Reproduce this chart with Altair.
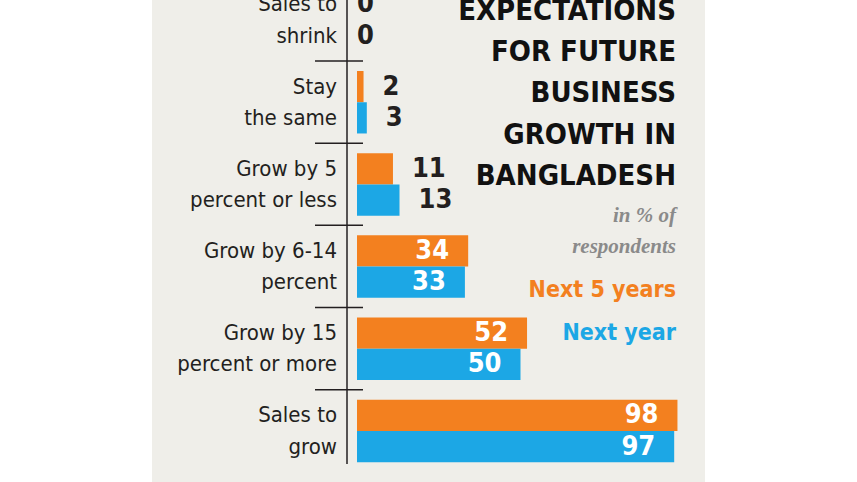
import altair as alt
import pandas as pd

# ---- data ----
categories = ["Sales to shrink", "Stay the same", "Grow by 5 percent or less",
              "Grow by 6-14 percent", "Grow by 15 percent or more", "Sales to grow"]
line1 = ["Sales to", "Stay", "Grow by 5", "Grow by 6-14", "Grow by 15", "Sales to"]
line2 = ["shrink", "the same", "percent or less", "percent", "percent or more", "grow"]
series = ["Next 5 years", "Next year"]
next_5_years = [0, 2, 11, 34, 52, 98]
next_year = [0, 3, 13, 33, 50, 97]
title_lines = ["EXPECTATIONS", "FOR FUTURE", "BUSINESS", "GROWTH IN", "BANGLADESH"]
unit_lines = ["in % of", "respondents"]

ORANGE = "#f3801f"
BLUE = "#1ca7e5"
BG = "#efeee9"
INK = "#231f20"
NARROW = "Liberation Sans Narrow, DejaVu Sans Condensed, sans-serif"

rows = []
for i, c in enumerate(categories):
    rows.append({"category": c, "series": series[0], "value": next_5_years[i], "label": line1[i]})
    rows.append({"category": c, "series": series[1], "value": next_year[i], "label": line2[i]})
df = pd.DataFrame(rows)

y_scale = alt.Scale(domain=categories, range=[-21, 472], paddingInner=0.24, paddingOuter=0.12)
y_enc = alt.Y("category:N", sort=categories, axis=None, scale=y_scale)
yoff_enc = alt.YOffset("series:N", sort=series,
                       scale=alt.Scale(domain=series, paddingInner=0, paddingOuter=0))
x_enc = alt.X("value:Q", axis=None, scale=alt.Scale(domain=[0, 100], range=[357, 684]))
color_enc = alt.Color("series:N", legend=None,
                      scale=alt.Scale(domain=series, range=[ORANGE, BLUE]))

base = alt.Chart(df)

panel = alt.Chart(alt.Data(values=[{"a": 1}])).mark_rect(color=BG).encode(
    x=alt.value(152), x2=alt.value(705), y=alt.value(0), y2=alt.value(482))

bars = base.mark_bar().encode(x=x_enc, y=y_enc, yOffset=yoff_enc, color=color_enc)

cat_labels = base.mark_text(align="right", baseline="middle", font=NARROW,
                            fontSize=22, color=INK).encode(
    x=alt.value(337), y=y_enc, yOffset=yoff_enc, text="label:N")

zero_labels = base.transform_filter("datum.value == 0").mark_text(
    align="left", baseline="middle", font=NARROW, fontSize=27, fontWeight="bold",
    color=INK, dx=0).encode(x=x_enc, y=y_enc, yOffset=yoff_enc, text="value:Q")

small_labels = base.transform_filter("datum.value > 0 && datum.value < 20").mark_text(
    align="left", baseline="middle", font=NARROW, fontSize=27, fontWeight="bold",
    color=INK, dx=19).encode(x=x_enc, y=y_enc, yOffset=yoff_enc, text="value:Q")

big_labels = base.transform_filter("datum.value >= 20").mark_text(
    align="right", baseline="middle", font=NARROW, fontSize=27, fontWeight="bold",
    color="white", dx=-19).encode(x=x_enc, y=y_enc, yOffset=yoff_enc, text="value:Q")

sep_df = pd.DataFrame({"category": categories[1:]})
separators = alt.Chart(sep_df).mark_rule(color=INK, strokeWidth=1.5, yOffset=-10).encode(
    y=alt.Y("category:N", sort=categories, bandPosition=0, axis=None, scale=y_scale),
    x=alt.value(315), x2=alt.value(363))

axis_line = alt.Chart(alt.Data(values=[{"a": 1}])).mark_rule(color=INK, strokeWidth=1.5).encode(
    x=alt.value(347), y=alt.value(0), y2=alt.value(464))

title = alt.Chart(alt.Data(values=[{"t": "\n".join(title_lines)}])).mark_text(
    align="right", baseline="alphabetic", font=NARROW, fontSize=29, fontWeight="bold",
    color="#111111", lineBreak="\n", lineHeight=41.2).encode(
    x=alt.value(676), y=alt.value(20), text="t:N")

units = alt.Chart(alt.Data(values=[{"t": "\n".join(unit_lines)}])).mark_text(
    align="right", baseline="alphabetic", font="Liberation Serif, DejaVu Serif, serif",
    fontSize=21, fontStyle="italic", fontWeight="bold", color="#8a8a8a",
    lineBreak="\n", lineHeight=31).encode(
    x=alt.value(676), y=alt.value(222), text="t:N")

leg_df = pd.DataFrame({"series": series})
legend_txt = alt.Chart(leg_df).mark_text(
    align="right", baseline="alphabetic", font=NARROW, fontSize=23, fontWeight="bold").encode(
    x=alt.value(676),
    y=alt.Y("series:N", sort=series, axis=None,
            scale=alt.Scale(domain=series, range=[297, 340], type="point", padding=0)),
    text="series:N",
    color=alt.Color("series:N", legend=None, scale=alt.Scale(domain=series, range=[ORANGE, BLUE])))

chart = alt.layer(panel, bars, cat_labels, zero_labels, small_labels, big_labels,
                  separators, axis_line, title, units, legend_txt).resolve_scale(
    y="independent").properties(
    width=857, height=482, autosize=alt.AutoSizeParams(type="none"), padding=0,
    background="white").configure_view(stroke=None)

chart.save("out.html", embed_options={"renderer": "svg", "actions": False})
